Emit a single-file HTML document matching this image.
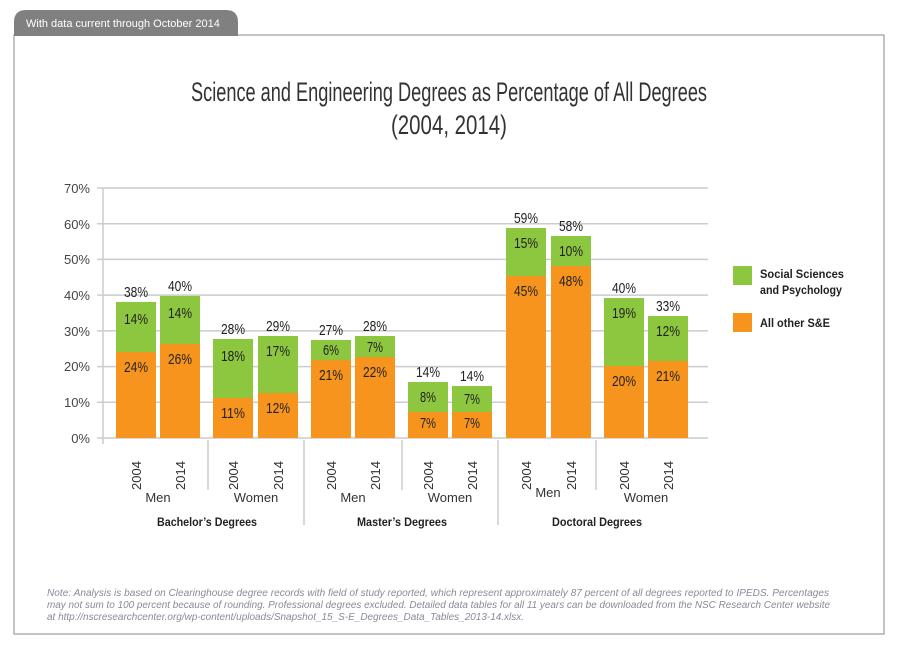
<!DOCTYPE html>
<html><head><meta charset="utf-8"><style>
html,body{margin:0;padding:0;background:#fff;}
svg{display:block;}
</style></head><body>
<svg width="900" height="650" viewBox="0 0 900 650" xmlns="http://www.w3.org/2000/svg" font-family="Liberation Sans, sans-serif">
<path d="M14,35 L14,22 Q14,10 26,10 L226,10 Q238,10 238,22 L238,35 Z" fill="#808080"/>
<text x="26" y="27" font-size="11" fill="#fff">With data current through October 2014</text>
<path d="M14,35 L884,35 L884,634 L14,634 Z" fill="none" stroke="#888" stroke-width="1"/>
<rect x="14" y="34" width="224" height="2" fill="#808080"/>
<text x="449" y="101" font-size="27" fill="#333" text-anchor="middle" textLength="516" lengthAdjust="spacingAndGlyphs">Science and Engineering Degrees as Percentage of All Degrees</text>
<text x="449" y="134" font-size="27" fill="#333" text-anchor="middle" textLength="116" lengthAdjust="spacingAndGlyphs">(2004, 2014)</text>
<g stroke="#ccc" stroke-width="1.5">
<line x1="97" y1="188" x2="708" y2="188"/>
<line x1="97" y1="223.7" x2="708" y2="223.7"/>
<line x1="97" y1="259.4" x2="708" y2="259.4"/>
<line x1="97" y1="295.1" x2="708" y2="295.1"/>
<line x1="97" y1="330.9" x2="708" y2="330.9"/>
<line x1="97" y1="366.6" x2="708" y2="366.6"/>
<line x1="97" y1="402.3" x2="708" y2="402.3"/>
<line x1="97" y1="438" x2="708" y2="438"/>
<line x1="103" y1="188" x2="103" y2="444"/>
<line x1="208" y1="440" x2="208" y2="490"/>
<line x1="304" y1="440" x2="304" y2="525"/>
<line x1="402" y1="440" x2="402" y2="490"/>
<line x1="498" y1="440" x2="498" y2="525"/>
<line x1="596" y1="440" x2="596" y2="490"/>
</g>
<g font-size="13" fill="#444" text-anchor="end">
<text x="90" y="193">70%</text><text x="90" y="229">60%</text><text x="90" y="264">50%</text>
<text x="90" y="300">40%</text><text x="90" y="336">30%</text><text x="90" y="371">20%</text>
<text x="90" y="407">10%</text><text x="90" y="443">0%</text>
</g>
<rect x="116" y="302" width="40" height="50" fill="#8dc63f"/><rect x="116" y="352" width="40" height="86" fill="#f7941d"/>
<rect x="160" y="296" width="40" height="48" fill="#8dc63f"/><rect x="160" y="344" width="40" height="94" fill="#f7941d"/>
<rect x="213" y="339" width="40" height="59" fill="#8dc63f"/><rect x="213" y="398" width="40" height="40" fill="#f7941d"/>
<rect x="258" y="336" width="40" height="57" fill="#8dc63f"/><rect x="258" y="393" width="40" height="45" fill="#f7941d"/>
<rect x="311" y="340" width="40" height="20" fill="#8dc63f"/><rect x="311" y="360" width="40" height="78" fill="#f7941d"/>
<rect x="355" y="336" width="40" height="21" fill="#8dc63f"/><rect x="355" y="357" width="40" height="81" fill="#f7941d"/>
<rect x="408" y="382" width="40" height="30" fill="#8dc63f"/><rect x="408" y="412" width="40" height="26" fill="#f7941d"/>
<rect x="452" y="386" width="40" height="26" fill="#8dc63f"/><rect x="452" y="412" width="40" height="26" fill="#f7941d"/>
<rect x="506" y="228" width="40" height="48" fill="#8dc63f"/><rect x="506" y="276" width="40" height="162" fill="#f7941d"/>
<rect x="551" y="236" width="40" height="30" fill="#8dc63f"/><rect x="551" y="266" width="40" height="172" fill="#f7941d"/>
<rect x="604" y="298" width="40" height="68" fill="#8dc63f"/><rect x="604" y="366" width="40" height="72" fill="#f7941d"/>
<rect x="648" y="316" width="40" height="45" fill="#8dc63f"/><rect x="648" y="361" width="40" height="77" fill="#f7941d"/>
<g font-size="15" fill="#222" text-anchor="middle">
<text x="136" y="297" textLength="24" lengthAdjust="spacingAndGlyphs">38%</text><text x="136" y="324" textLength="24" lengthAdjust="spacingAndGlyphs">14%</text><text x="136" y="372" textLength="24" lengthAdjust="spacingAndGlyphs">24%</text>
<text x="180" y="291" textLength="24" lengthAdjust="spacingAndGlyphs">40%</text><text x="180" y="318" textLength="24" lengthAdjust="spacingAndGlyphs">14%</text><text x="180" y="364" textLength="24" lengthAdjust="spacingAndGlyphs">26%</text>
<text x="233" y="334" textLength="24" lengthAdjust="spacingAndGlyphs">28%</text><text x="233" y="361" textLength="24" lengthAdjust="spacingAndGlyphs">18%</text><text x="233" y="418" textLength="24" lengthAdjust="spacingAndGlyphs">11%</text>
<text x="278" y="331" textLength="24" lengthAdjust="spacingAndGlyphs">29%</text><text x="278" y="356" textLength="24" lengthAdjust="spacingAndGlyphs">17%</text><text x="278" y="413" textLength="24" lengthAdjust="spacingAndGlyphs">12%</text>
<text x="331" y="335" textLength="24" lengthAdjust="spacingAndGlyphs">27%</text><text x="331" y="355" textLength="16" lengthAdjust="spacingAndGlyphs">6%</text><text x="331" y="380" textLength="24" lengthAdjust="spacingAndGlyphs">21%</text>
<text x="375" y="331" textLength="24" lengthAdjust="spacingAndGlyphs">28%</text><text x="375" y="352" textLength="16" lengthAdjust="spacingAndGlyphs">7%</text><text x="375" y="377" textLength="24" lengthAdjust="spacingAndGlyphs">22%</text>
<text x="428" y="377" textLength="24" lengthAdjust="spacingAndGlyphs">14%</text><text x="428" y="402" textLength="16" lengthAdjust="spacingAndGlyphs">8%</text><text x="428" y="428" textLength="16" lengthAdjust="spacingAndGlyphs">7%</text>
<text x="472" y="381" textLength="24" lengthAdjust="spacingAndGlyphs">14%</text><text x="472" y="404" textLength="16" lengthAdjust="spacingAndGlyphs">7%</text><text x="472" y="428" textLength="16" lengthAdjust="spacingAndGlyphs">7%</text>
<text x="526" y="223" textLength="24" lengthAdjust="spacingAndGlyphs">59%</text><text x="526" y="248" textLength="24" lengthAdjust="spacingAndGlyphs">15%</text><text x="526" y="296" textLength="24" lengthAdjust="spacingAndGlyphs">45%</text>
<text x="571" y="231" textLength="24" lengthAdjust="spacingAndGlyphs">58%</text><text x="571" y="256" textLength="24" lengthAdjust="spacingAndGlyphs">10%</text><text x="571" y="286" textLength="24" lengthAdjust="spacingAndGlyphs">48%</text>
<text x="624" y="293" textLength="24" lengthAdjust="spacingAndGlyphs">40%</text><text x="624" y="318" textLength="24" lengthAdjust="spacingAndGlyphs">19%</text><text x="624" y="386" textLength="24" lengthAdjust="spacingAndGlyphs">20%</text>
<text x="668" y="311" textLength="24" lengthAdjust="spacingAndGlyphs">33%</text><text x="668" y="336" textLength="24" lengthAdjust="spacingAndGlyphs">12%</text><text x="668" y="381" textLength="24" lengthAdjust="spacingAndGlyphs">21%</text>
</g>
<g font-size="13" fill="#333">
<text transform="translate(141,490) rotate(-90)">2004</text>
<text transform="translate(185,490) rotate(-90)">2014</text>
<text transform="translate(238,490) rotate(-90)">2004</text>
<text transform="translate(283,490) rotate(-90)">2014</text>
<text transform="translate(336,490) rotate(-90)">2004</text>
<text transform="translate(380,490) rotate(-90)">2014</text>
<text transform="translate(433,490) rotate(-90)">2004</text>
<text transform="translate(477,490) rotate(-90)">2014</text>
<text transform="translate(531,490) rotate(-90)">2004</text>
<text transform="translate(576,490) rotate(-90)">2014</text>
<text transform="translate(629,490) rotate(-90)">2004</text>
<text transform="translate(673,490) rotate(-90)">2014</text>
</g>
<g font-size="13" fill="#333" text-anchor="middle">
<text x="158" y="502">Men</text><text x="256" y="502">Women</text>
<text x="353" y="502">Men</text><text x="450" y="502">Women</text>
<text x="548" y="497">Men</text><text x="646" y="502">Women</text>
</g>
<g font-size="12" font-weight="bold" fill="#222" text-anchor="middle">
<text x="207" y="526" textLength="100" lengthAdjust="spacingAndGlyphs">Bachelor’s Degrees</text>
<text x="402" y="526" textLength="90" lengthAdjust="spacingAndGlyphs">Master’s Degrees</text>
<text x="597" y="526" textLength="90" lengthAdjust="spacingAndGlyphs">Doctoral Degrees</text>
</g>
<rect x="733" y="266" width="19" height="19" fill="#8dc63f"/>
<rect x="733" y="313" width="19" height="19" fill="#f7941d"/>
<g font-size="12" font-weight="bold" fill="#222">
<text x="760" y="278" textLength="84" lengthAdjust="spacingAndGlyphs">Social Sciences</text>
<text x="760" y="294" textLength="82" lengthAdjust="spacingAndGlyphs">and Psychology</text>
<text x="760" y="327" textLength="70" lengthAdjust="spacingAndGlyphs">All other S&amp;E</text>
</g>
<g font-size="10" font-style="italic" fill="#8a8a9a">
<text x="47" y="596" textLength="782" lengthAdjust="spacingAndGlyphs">Note: Analysis is based on Clearinghouse degree records with field of study reported, which represent approximately 87 percent of all degrees reported to IPEDS. Percentages</text>
<text x="47" y="608" textLength="783" lengthAdjust="spacingAndGlyphs">may not sum to 100 percent because of rounding. Professional degrees excluded. Detailed data tables for all 11 years can be downloaded from the NSC Research Center website</text>
<text x="47" y="620" textLength="477" lengthAdjust="spacingAndGlyphs">at http://nscresearchcenter.org/wp-content/uploads/Snapshot_15_S-E_Degrees_Data_Tables_2013-14.xlsx.</text>
</g>
</svg>
</body></html>
